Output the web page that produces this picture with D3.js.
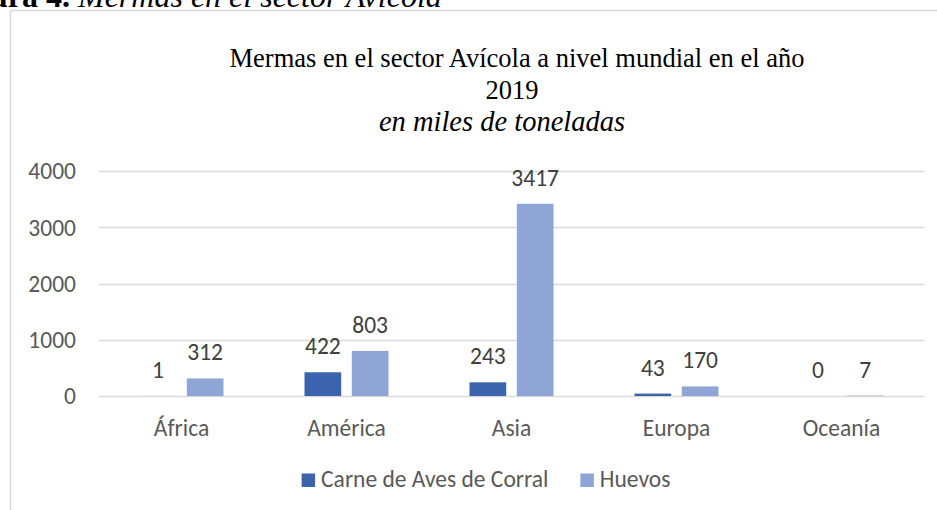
<!DOCTYPE html>
<html>
<head>
<meta charset="utf-8">
<script src="https://cdn.jsdelivr.net/npm/d3@7"></script>
<style>
  html, body { margin: 0; padding: 0; background: #ffffff; }
  svg { display: block; }
</style>
</head>
<body>
<svg id="chart" width="937" height="510"></svg>
<script>
const categories = ["África", "América", "Asia", "Europa", "Oceanía"];
const seriesNames = ["Carne de Aves de Corral", "Huevos"];
const carneValues = [1, 422, 243, 43, 0];
const huevosValues = [312, 803, 3417, 170, 7];
const yTicks = [0, 1000, 2000, 3000, 4000];
const seriesColors = ["#3B64AD", "#8FA5D5"];
const titleLine1 = "Mermas en el sector Avícola a nivel mundial en el año";
const titleLine2 = "2019";
const subtitle = "en miles de toneladas";
const captionBold = "Figura 4.";
const captionItalic = "Mermas en el sector Avícola";

const svg = d3.select("#chart");
const sans = "Carlito, Lato, 'Open Sans', sans-serif";
const serif = "'Liberation Serif', 'Times New Roman', serif";
const fs = 23.5;

// figure caption (cut off at the top, as in the source document)
const cap = svg.append("text").attr("y", 7).attr("font-family", serif).attr("font-size", 32).attr("fill", "#000");
cap.append("tspan").attr("font-weight", "bold").text(captionBold + " ");
cap.append("tspan").attr("font-style", "italic").text(captionItalic);
const boldW = cap.select("tspan").node().getComputedTextLength();
cap.attr("x", 78 - boldW);

// chart border
svg.append("rect").attr("x", 10.5).attr("y", 10.5).attr("width", 1100).attr("height", 700)
  .attr("fill", "#fff").attr("stroke", "#d9d9d9").attr("stroke-width", 1.5);

const plot = { left: 99, right: 924, top: 171, bottom: 396 };

const x0 = d3.scaleBand().domain(categories).range([plot.left, plot.right]).paddingInner(0).paddingOuter(0);
const groupW = 84;
const x1 = d3.scaleBand().domain(seriesNames)
  .range([(x0.bandwidth() - groupW) / 2, (x0.bandwidth() + groupW) / 2])
  .paddingInner(0.224).paddingOuter(0);
const y = d3.scaleLinear().domain([0, 4000]).range([plot.bottom, plot.top]);

// gridlines
svg.append("g").selectAll("line").data(yTicks).join("line")
  .attr("x1", plot.left).attr("x2", plot.right)
  .attr("y1", d => Math.round(y(d)) + 0.5).attr("y2", d => Math.round(y(d)) + 0.5)
  .attr("stroke", "#d9d9d9").attr("stroke-width", 1.3);

// y axis labels
const yAxis = svg.append("g").attr("transform", `translate(${plot.left},0)`)
  .call(d3.axisLeft(y).tickValues(yTicks).tickSize(0).tickPadding(23).tickFormat(d3.format("d")));
yAxis.select(".domain").remove();
yAxis.selectAll("text").attr("font-family", sans).attr("font-size", fs).attr("fill", "#595959").attr("dy", "0.33em");

// x axis labels
const xAxis = svg.append("g").attr("transform", `translate(0,${plot.bottom})`)
  .call(d3.axisBottom(x0).tickSize(0));
xAxis.select(".domain").remove();
xAxis.selectAll("text").attr("font-family", sans).attr("font-size", fs).attr("fill", "#595959")
  .attr("y", 40).attr("dy", 0);

// bars
const rows = categories.map((c, i) => ({ cat: c, vals: [carneValues[i], huevosValues[i]] }));
const groups = svg.append("g").selectAll("g").data(rows).join("g")
  .attr("transform", d => `translate(${x0(d.cat)},0)`);
groups.selectAll("rect").data(d => d.vals.map((v, j) => ({ v, s: seriesNames[j], j }))).join("rect")
  .attr("x", d => x1(d.s)).attr("width", x1.bandwidth())
  .attr("y", d => y(d.v)).attr("height", d => y(0) - y(d.v))
  .attr("fill", d => seriesColors[d.j]);
groups.selectAll("text").data(d => d.vals.map((v, j) => ({ v, s: seriesNames[j], j }))).join("text")
  .attr("x", d => x1(d.s) + x1.bandwidth() / 2).attr("y", d => y(d.v) - 18)
  .attr("text-anchor", "middle").attr("font-family", sans).attr("font-size", fs).attr("fill", "#404040")
  .text(d => d.v);

// title
svg.append("text").attr("x", 517).attr("y", 67).attr("text-anchor", "middle")
  .attr("font-family", serif).attr("font-size", 26.5).attr("fill", "#000").text(titleLine1);
svg.append("text").attr("x", 512).attr("y", 99).attr("text-anchor", "middle")
  .attr("font-family", serif).attr("font-size", 26.5).attr("fill", "#000").text(titleLine2);
svg.append("text").attr("x", 502).attr("y", 131).attr("text-anchor", "middle")
  .attr("font-family", serif).attr("font-style", "italic").attr("font-size", 28.5).attr("fill", "#000").text(subtitle);

// legend
const legend = svg.append("g");
let lx = 0;
seriesNames.forEach((name, i) => {
  const g = legend.append("g").attr("transform", `translate(${lx},0)`);
  g.append("rect").attr("x", 0).attr("y", -13.5).attr("width", 13.5).attr("height", 13.5).attr("fill", seriesColors[i]);
  const t = g.append("text").attr("x", 19.5).attr("y", 0).attr("font-family", sans).attr("font-size", fs)
    .attr("fill", "#595959").text(name);
  lx += 19.5 + t.node().getComputedTextLength() + 32;
});
const legendW = lx - 32;
legend.attr("transform", `translate(${486 - legendW / 2},487)`);
</script>
</body>
</html>
